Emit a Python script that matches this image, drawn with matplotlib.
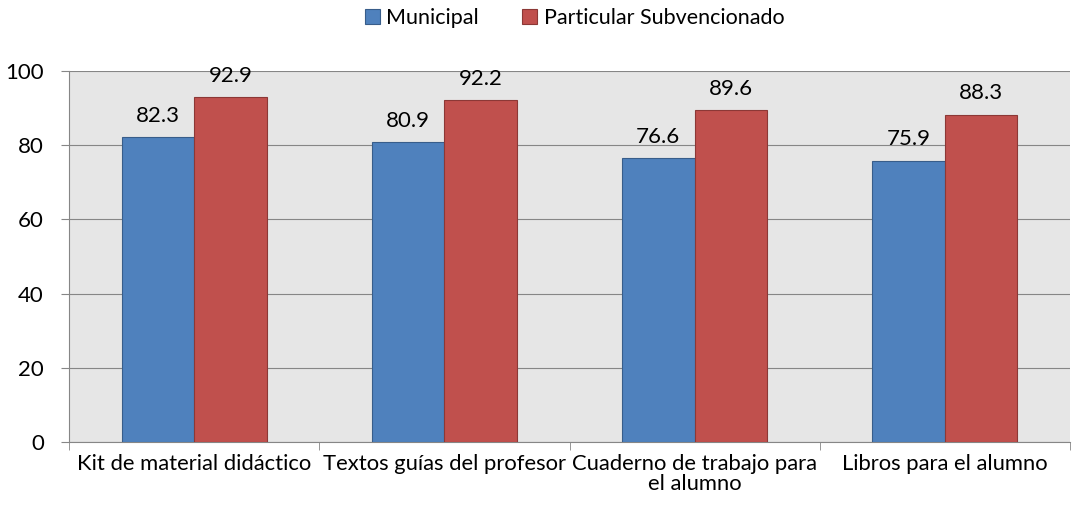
import matplotlib.pyplot as plt
import numpy as np

categorias = ['Kit de material didáctico', 'Textos guías del profesor',
              'Cuaderno de trabajo para\nel alumno', 'Libros para el alumno']
municipal = [82.3, 80.9, 76.6, 75.9]
subvencionado = [92.9, 92.2, 89.6, 88.3]

plt.rcParams['font.family'] = ['Lato', 'DejaVu Sans']
plt.rcParams['font.size'] = 12

fig = plt.figure(figsize=(10.78, 5.12), dpi=100)
ax = fig.add_axes([0.064, 0.137, 0.9286, 0.724])
ax.set_facecolor('#e6e6e6')

x = np.arange(len(categorias))
w = 0.29
b1 = ax.bar(x - w/2, municipal, w, color='#4f81bd', edgecolor='#385d8a',
            linewidth=0.8, label='Municipal', zorder=3)
b2 = ax.bar(x + w/2, subvencionado, w, color='#c0504d', edgecolor='#8c3836',
            linewidth=0.8, label='Particular Subvencionado', zorder=3)
for bars in (b1, b2):
    ax.bar_label(bars, fmt='%.1f', padding=8, fontsize=16, zorder=4)

ax.set_xlim(-0.5, len(categorias) - 0.5)
ax.set_ylim(0, 100)
ax.set_yticks(range(0, 101, 20))
ax.yaxis.grid(True, color='#868686', linewidth=0.8, zorder=0)
ax.set_xticks(x)
ax.set_xticklabels(categorias, linespacing=1.0)
ax.set_xticks(np.arange(-0.5, len(categorias)), minor=True)
ax.tick_params(axis='x', which='major', length=0, pad=9, labelsize=15.8)
ax.tick_params(axis='x', which='minor', length=6, color='#868686')
ax.tick_params(axis='y', length=6, color='#868686', labelsize=16, pad=12)
for s in ('top', 'right'):
    ax.spines[s].set_visible(False)
for s in ('left', 'bottom'):
    ax.spines[s].set_color('#868686')

ax.legend(loc='center', bbox_to_anchor=(0.505, 1.143), ncol=2, frameon=False,
          handlelength=0.7, handleheight=0.7, handletextpad=0.3,
          columnspacing=2.0, fontsize=15.5)

fig.savefig('out.png', dpi=100)
